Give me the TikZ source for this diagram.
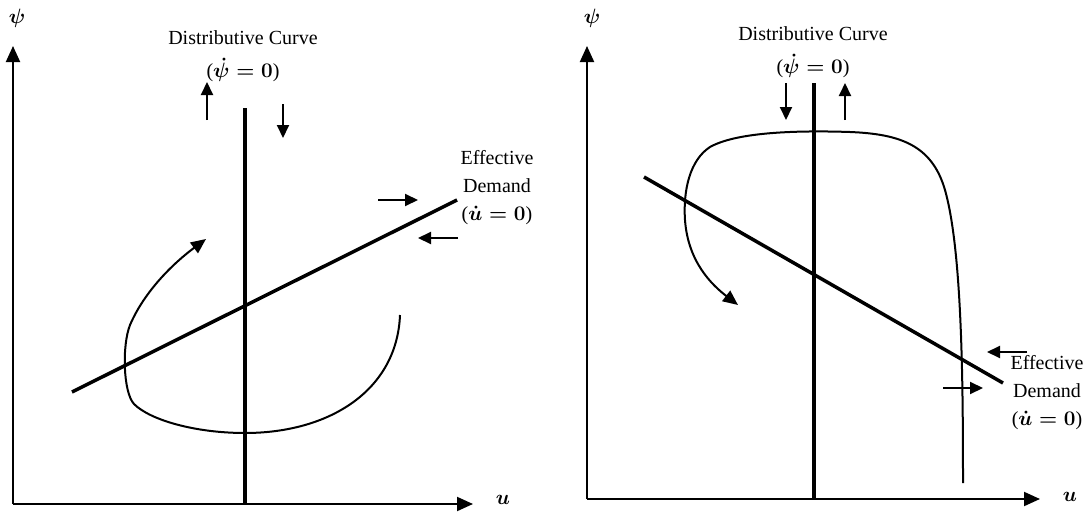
\documentclass[tikz,border=0pt]{standalone}
\usepackage{amsmath,bm}
\usepackage{fontspec}
\setmainfont{Liberation Serif}
\usetikzlibrary{arrows.meta}
\begin{document}
\begin{tikzpicture}[x=1pt,y=-1pt,
  axis/.style={line width=2pt,-{Triangle[length=16pt,width=14pt]}},
  bigline/.style={line width=3.5pt},
  pathcurve/.style={line width=2pt,-{Triangle[length=15pt,width=13pt]}},
  dirarrow/.style={line width=2pt,-{Triangle[length=13pt,width=12pt]}},
  lab/.style={font=\fontsize{20}{28}\selectfont, inner sep=0pt, align=center},
  axlab/.style={font=\fontsize{22}{26}\selectfont, inner sep=0pt}]
\useasboundingbox (0,0) rectangle (1088,514);
% ---------------- left panel ----------------
\coordinate (LO) at (13,504);
\coordinate (LY) at (13,46);
\coordinate (LX) at (473,504);
\draw[axis] (LO) -- (LY);
\draw[axis] (LO) -- (LX);
\node[axlab] (Lpsi) at (17,18) {$\bm{\psi}$};
\node[axlab] (Lu) at (503,500) {$\bm{u}$};
\coordinate (LDtop) at (245,108);
\coordinate (LDbot) at (245,504);
\draw[bigline] (LDtop) -- (LDbot);
\node[lab] (LDC) at (243,38) {Distributive Curve};
\node[lab] (LDCeq) at (243,70) {({\boldmath$\dot{\psi} = 0$})};
\coordinate (LED1) at (72,392);
\coordinate (LED2) at (457,200);
\draw[bigline] (LED1) -- (LED2);
\node[lab] (LEDlab) at (497,188) {Effective\\Demand\\({\boldmath$\dot{u} = 0$})};
\coordinate (La1s) at (207,120); \coordinate (La1e) at (207,82);
\draw[dirarrow] (La1s) -- (La1e);
\coordinate (La2s) at (283,104); \coordinate (La2e) at (283,138);
\draw[dirarrow] (La2s) -- (La2e);
\coordinate (La3s) at (378,200); \coordinate (La3e) at (418,200);
\draw[dirarrow] (La3s) -- (La3e);
\coordinate (La4s) at (458,238); \coordinate (La4e) at (418,238);
\draw[dirarrow] (La4s) -- (La4e);
\coordinate (LCs) at (400,315);
\coordinate (LCb) at (245,433);
\coordinate (LCc) at (134,404);
\coordinate (LCm) at (130,325);
\coordinate (LCe) at (206,239);
\draw[pathcurve] (LCs) .. controls (397,390) and (330,433) .. (LCb)
  .. controls (195,433) and (150,420) .. (LCc)
  .. controls (123,392) and (122,345) .. (LCm)
  .. controls (145,290) and (175,262) .. (LCe);
% ---------------- right panel ----------------
\coordinate (RO) at (587,499);
\coordinate (RY) at (587,46);
\coordinate (RX) at (1040,499);
\draw[axis] (RO) -- (RY);
\draw[axis] (RO) -- (RX);
\node[axlab] (Rpsi) at (592,18) {$\bm{\psi}$};
\node[axlab] (Ru) at (1070,497) {$\bm{u}$};
\coordinate (RDtop) at (814,83);
\coordinate (RDbot) at (814,499);
\draw[bigline] (RDtop) -- (RDbot);
\node[lab] (RDC) at (813,34) {Distributive Curve};
\node[lab] (RDCeq) at (813,66) {({\boldmath$\dot{\psi} = 0$})};
\coordinate (RED1) at (644,177);
\coordinate (RED2) at (1003,383);
\draw[bigline] (RED1) -- (RED2);
\node[lab] (REDlab) at (1047,393) {Effective\\Demand\\({\boldmath$\dot{u} = 0$})};
\coordinate (Ra1s) at (786,83); \coordinate (Ra1e) at (786,120);
\draw[dirarrow] (Ra1s) -- (Ra1e);
\coordinate (Ra2s) at (845,120); \coordinate (Ra2e) at (845,83);
\draw[dirarrow] (Ra2s) -- (Ra2e);
\coordinate (Ra3s) at (943,388); \coordinate (Ra3e) at (983,388);
\draw[dirarrow] (Ra3s) -- (Ra3e);
\coordinate (Ra4s) at (1027,352); \coordinate (Ra4e) at (987,352);
\draw[dirarrow] (Ra4s) -- (Ra4e);
\coordinate (RCs) at (963,483);
\coordinate (RCa) at (945,190);
\coordinate (RCb) at (850,132);
\coordinate (RCc) at (710,147);
\coordinate (RCd) at (685,220);
\coordinate (RCe) at (738,305);
\draw[pathcurve] (RCs) .. controls (963,380) and (962,250) .. (RCa)
  .. controls (932,145) and (900,134) .. (RCb)
  .. controls (790,130) and (735,133) .. (RCc)
  .. controls (690,160) and (683,190) .. (RCd)
  .. controls (688,262) and (712,285) .. (RCe);
\end{tikzpicture}
\end{document}
